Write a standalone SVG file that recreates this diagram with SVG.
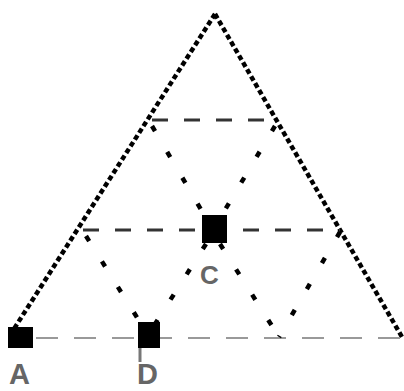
<svg xmlns="http://www.w3.org/2000/svg" width="404" height="391" viewBox="0 0 404 391">
<style>
.side{stroke:#000;stroke-width:4.5;stroke-dasharray:5 3;fill:none}
.base{stroke:#999;stroke-width:2;stroke-dasharray:22 16;fill:none}
.hz{stroke:#333;stroke-width:3;stroke-dasharray:16 16;fill:none}
.dg{stroke:#000;stroke-width:4.5;stroke-dasharray:6 24;fill:none}
.node{fill:#000}
.lbl{font-family:"Liberation Sans",Arial,sans-serif;fill:#666;font-weight:bold}
</style>
<rect width="404" height="391" fill="#fff"/>
<g id="connectors">
<line class="side" x1="215" y1="14" x2="12" y2="332"/>
<line class="side" x1="215" y1="14" x2="402" y2="337"/>
<line class="base" x1="36" y1="338" x2="402" y2="338"/>
<line class="hz" x1="152" y1="120" x2="277" y2="120"/>
<line class="hz" x1="83" y1="230" x2="340" y2="230"/>
<line class="dg" x1="152" y1="126" x2="213" y2="230"/>
<line class="dg" x1="275" y1="126" x2="213" y2="230"/>
<line class="dg" x1="86" y1="236" x2="148" y2="335"/>
<line class="dg" x1="206" y1="244" x2="148" y2="335"/>
<line class="dg" x1="220" y1="244" x2="279" y2="337"/>
<line class="dg" x1="340" y1="232" x2="279" y2="337"/>
<line x1="140" y1="348" x2="140" y2="362" stroke="#777" stroke-width="3"/>
</g>
<g id="node-A">
<rect class="node" x="8" y="327" width="25" height="21"/>
<text class="lbl" x="9" y="384" font-size="29">A</text>
</g>
<g id="node-D">
<rect class="node" x="138" y="322" width="22" height="26"/>
<text class="lbl" x="137" y="384" font-size="29">D</text>
</g>
<g id="node-C">
<rect class="node" x="202" y="215" width="25" height="28"/>
<text class="lbl" x="200" y="284" font-size="26">C</text>
</g>
</svg>
